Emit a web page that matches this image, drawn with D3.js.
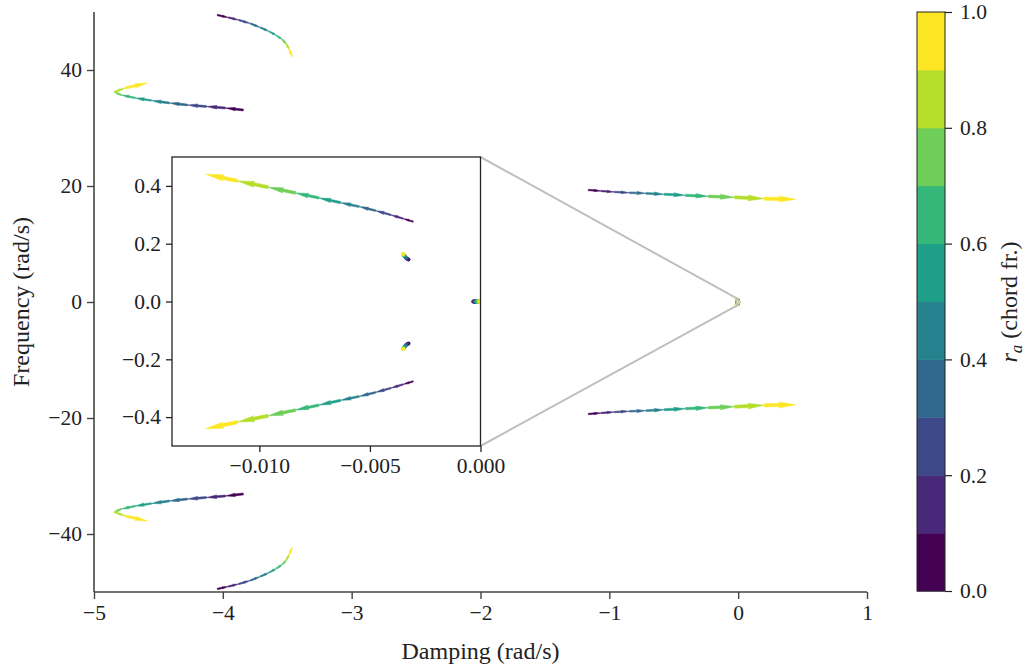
<!DOCTYPE html>
<html>
<head>
<meta charset="utf-8">
<script src="https://cdn.jsdelivr.net/npm/d3@7"></script>
<style>
  body { margin: 0; background: #fff; }
  text { font-family: "Liberation Serif", "Times New Roman", serif; }
</style>
</head>
<body>
<svg id="chart" width="1026" height="669"></svg>
<script>
// r_a value at each arrow of a branch (one colour band each)
const raSteps = [0.05, 0.15, 0.25, 0.35, 0.45, 0.55, 0.65, 0.75, 0.85, 0.95];

// upper half of each root path, lower half is the conjugate
const topArcRe = [-4.043, -3.957, -3.877, -3.786, -3.709, -3.639, -3.584, -3.538, -3.507, -3.484, -3.461];
const topArcIm = [49.48, 49.05, 48.62, 48.02, 47.33, 46.64, 45.95, 45.26, 44.48, 43.53, 42.24];

const sideArcRe = [-3.841, -3.980, -4.128, -4.275, -4.415, -4.555, -4.679, -4.788, -4.843, -4.757, -4.586];
const sideArcIm = [33.10, 33.45, 33.71, 33.97, 34.31, 34.74, 35.17, 35.69, 36.21, 36.90, 37.76];

const rightRe = [-1.163, -1.064, -0.961, -0.845, -0.716, -0.574, -0.410, -0.232, -0.029, 0.203, 0.449];
const rightIm = [19.31, 19.14, 18.97, 18.84, 18.74, 18.57, 18.40, 18.22, 18.05, 17.81, 17.71];

const innerRe = [-0.003041, -0.003493, -0.004050, -0.004742, -0.005484, -0.006326, -0.007308, -0.008362, -0.009602, -0.010987, -0.012421];
const innerIm = [0.2764, 0.2867, 0.2996, 0.3144, 0.3283, 0.3421, 0.3584, 0.3757, 0.3955, 0.4173, 0.4405];

const clusterRe = [-0.003235, -0.003281, -0.003326, -0.003371, -0.003403, -0.003435, -0.003462, -0.003480, -0.003493, -0.003498, -0.003500];
const clusterIm = [0.1437, 0.1461, 0.1486, 0.1510, 0.1541, 0.1569, 0.1596, 0.1617, 0.1631, 0.1641, 0.1652];

const originRe = [-0.000330, -0.000305, -0.000278, -0.000250, -0.000221, -0.000190, -0.000158, -0.000124, -0.000089, -0.000052, -0.000015];
const originIm = [0, 0, 0, 0, 0, 0, 0, 0, 0, 0, 0];

const mainXTicks = [-5, -4, -3, -2, -1, 0, 1];
const mainYTicks = [-40, -20, 0, 20, 40];
const insetXTicks = [-0.010, -0.005, 0.000];
const insetYTicks = [-0.4, -0.2, 0.0, 0.2, 0.4];
const cbarTicks = [0.0, 0.2, 0.4, 0.6, 0.8, 1.0];

const upper = [
    [topArcRe, topArcIm], [sideArcRe, sideArcIm], [rightRe, rightIm],
    [innerRe, innerIm], [clusterRe, clusterIm], [originRe, originIm]
];
const branches = [];
upper.forEach(([re, im]) => {
    branches.push({ re, im });
    branches.push({ re, im: im.map((v) => -v) });
});

const svg = d3.select('#chart');
const nBands = 10;
const bandColors = d3.range(nBands).map((i) => d3.interpolateViridis(i / (nBands - 1)));
const color = d3.scaleQuantize().domain([0, 1]).range(bandColors);

const spineColor = '#444';
const fontTick = 21.5;
const fontLabel = 24;

// main axes
const x = d3.scaleLinear().domain([-5, 1]).range([94, 867]);
const y = d3.scaleLinear().domain([-50, 50]).range([592, 12]);

// inset axes
const ix = d3.scaleLinear().domain([-0.01395, 0]).range([172, 480.5]);
const iy = d3.scaleLinear().domain([-0.5, 0.5]).range([446, 157]);

const defs = svg.append('defs');
defs.append('clipPath').attr('id', 'clip-main')
    .append('rect').attr('x', 94).attr('y', 12).attr('width', 773).attr('height', 580);
defs.append('clipPath').attr('id', 'clip-inset')
    .append('rect').attr('x', 172).attr('y', 157).attr('width', 308.5).attr('height', 289);

// wedge-shaped quiver arrow from p0 to p1 (pixel space)
const arrowPoints = (p0, p1) => {
    const dx = p1[0] - p0[0];
    const dy = p1[1] - p0[1];
    const len = Math.hypot(dx, dy);
    const ux = len > 0 ? dx / len : 1;
    const uy = len > 0 ? dy / len : 0;
    const tail = Math.max(0.05 * len, 0.7);
    const head = Math.max(0.095 * len, 1.1);
    const pts = [[0, tail], [0.5 * len, tail], [0.45 * len, head], [len, 0],
        [0.45 * len, -head], [0.5 * len, -tail], [0, -tail]];
    return pts.map(([a, b]) => [p0[0] + a * ux - b * uy, p0[1] + a * uy + b * ux]);
};

const drawArrows = (g, sx, sy) => {
    branches.forEach((br) => {
        raSteps.forEach((ra, i) => {
            const p0 = [sx(br.re[i]), sy(br.im[i])];
            const p1 = [sx(br.re[i + 1]), sy(br.im[i + 1])];
            const c = color(ra);
            const len = Math.hypot(p1[0] - p0[0], p1[1] - p0[1]);
            if (len < 4) {
                // too short to show a head: a dot, as quiver does
                g.append('circle')
                    .attr('cx', (p0[0] + p1[0]) / 2)
                    .attr('cy', (p0[1] + p1[1]) / 2)
                    .attr('r', 2)
                    .attr('fill', c);
                return;
            }
            g.append('path')
                .attr('d', 'M' + arrowPoints(p0, p1).join('L') + 'Z')
                .attr('fill', c)
                .attr('stroke', c)
                .attr('stroke-width', 0.5)
                .attr('stroke-linejoin', 'round');
        });
    });
};

const mainPlot = svg.append('g').attr('clip-path', 'url(#clip-main)');
drawArrows(mainPlot, x, y);

// main axes: left and bottom spines only
const gx = svg.append('g').attr('transform', 'translate(0,592)')
    .call(d3.axisBottom(x).tickValues(mainXTicks).tickFormat(d3.format('d')).tickSize(7).tickPadding(6));
const gy = svg.append('g').attr('transform', 'translate(94,0)')
    .call(d3.axisLeft(y).tickValues(mainYTicks).tickFormat(d3.format('d')).tickSize(7).tickPadding(5));
[gx, gy].forEach((g) => {
    g.select('.domain').attr('stroke', spineColor).attr('stroke-width', 1.6);
    g.selectAll('.tick line').attr('stroke', spineColor).attr('stroke-width', 1.4);
    g.selectAll('.tick text').attr('font-size', fontTick).attr('fill', '#222')
        .style('font-family', '"Liberation Serif", serif');
});
gx.select('.domain').attr('d', 'M94,0H867');
gy.select('.domain').attr('d', 'M0,12V592');

svg.append('text').attr('x', 480.5).attr('y', 659).attr('text-anchor', 'middle')
    .attr('font-size', fontLabel).attr('fill', '#222').text('Damping (rad/s)');
svg.append('text').attr('transform', 'translate(29,302) rotate(-90)').attr('text-anchor', 'middle')
    .attr('font-size', fontLabel).attr('fill', '#222').text('Frequency (rad/s)');

// zoom region marker and connectors
const zx0 = x(ix.domain()[0]);
const zx1 = x(ix.domain()[1]);
const zy0 = y(iy.domain()[1]);
const zy1 = y(iy.domain()[0]);
svg.append('rect').attr('x', zx0).attr('y', zy0).attr('width', zx1 - zx0).attr('height', zy1 - zy0)
    .attr('fill', 'none').attr('stroke', '#bfbfbf').attr('stroke-width', 1);
svg.append('line').attr('x1', 480.5).attr('y1', 157).attr('x2', zx1).attr('y2', zy0)
    .attr('stroke', '#bfbfbf').attr('stroke-width', 2);
svg.append('line').attr('x1', 480.5).attr('y1', 446).attr('x2', zx1).attr('y2', zy1)
    .attr('stroke', '#bfbfbf').attr('stroke-width', 2);

// inset
svg.append('rect').attr('x', 172).attr('y', 157).attr('width', 308.5).attr('height', 289).attr('fill', '#fff');
const insetPlot = svg.append('g').attr('clip-path', 'url(#clip-inset)');
drawArrows(insetPlot, ix, iy);

const igx = svg.append('g').attr('transform', 'translate(0,446)')
    .call(d3.axisBottom(ix).tickValues(insetXTicks).tickFormat(d3.format('.3f')).tickSize(6).tickPadding(6));
const igy = svg.append('g').attr('transform', 'translate(172,0)')
    .call(d3.axisLeft(iy).tickValues(insetYTicks).tickFormat(d3.format('.1f')).tickSize(6).tickPadding(5));
[igx, igy].forEach((g) => {
    g.select('.domain').remove();
    g.selectAll('.tick line').attr('stroke', '#222').attr('stroke-width', 1.3);
    g.selectAll('.tick text').attr('font-size', fontTick).attr('fill', '#222')
        .style('font-family', '"Liberation Serif", serif');
});
svg.append('rect').attr('x', 172).attr('y', 157).attr('width', 308.5).attr('height', 289)
    .attr('fill', 'none').attr('stroke', '#222').attr('stroke-width', 1.3);

// colorbar
const cb = d3.scaleLinear().domain([0, 1]).range([591, 12]);
const cbX = 917;
const cbW = 28;
svg.append('g').selectAll('rect')
    .data(bandColors)
    .enter()
    .append('rect')
    .attr('x', cbX)
    .attr('y', (d, i) => cb((i + 1) / nBands))
    .attr('width', cbW)
    .attr('height', (d, i) => cb(i / nBands) - cb((i + 1) / nBands) + 0.5)
    .attr('fill', (d) => d);
svg.append('rect').attr('x', cbX).attr('y', 12).attr('width', cbW).attr('height', 579)
    .attr('fill', 'none').attr('stroke', '#222').attr('stroke-width', 1);
const gcb = svg.append('g').attr('transform', `translate(${cbX + cbW},0)`)
    .call(d3.axisRight(cb).tickValues(cbarTicks).tickFormat(d3.format('.1f')).tickSize(7).tickPadding(8));
gcb.select('.domain').remove();
gcb.selectAll('.tick line').attr('stroke', '#222').attr('stroke-width', 1.2);
gcb.selectAll('.tick text').attr('font-size', fontTick).attr('fill', '#222')
    .style('font-family', '"Liberation Serif", serif');

const cbLabel = svg.append('text').attr('transform', 'translate(1017,302) rotate(-90)')
    .attr('text-anchor', 'middle').attr('font-size', fontLabel).attr('fill', '#222');
cbLabel.append('tspan').attr('font-style', 'italic').text('r');
cbLabel.append('tspan').attr('font-style', 'italic').attr('font-size', 17).attr('dy', 5).text('a');
cbLabel.append('tspan').attr('dy', -5).text(' (chord fr.)');
</script>
</body>
</html>
